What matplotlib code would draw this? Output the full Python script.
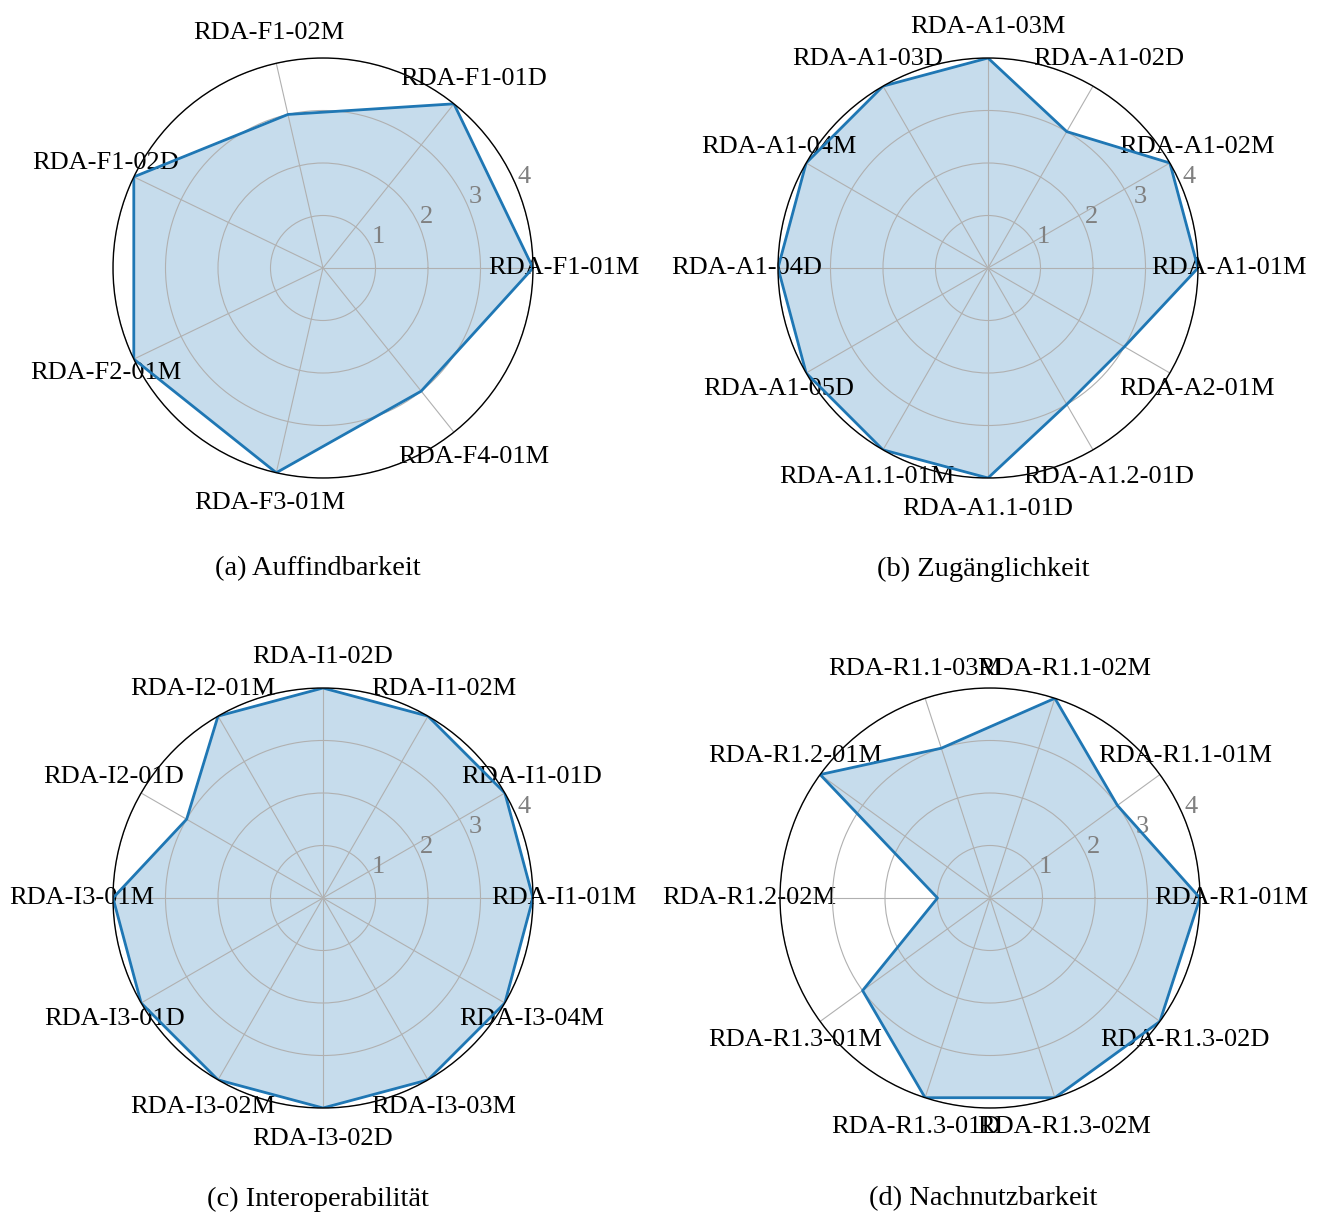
"""
FAIR maturity radar charts (RDA indicators)
"""

import matplotlib.pyplot as plt
import numpy as np

plt.rcParams["font.family"] = ["Liberation Serif", "DejaVu Serif"]
plt.rcParams["font.size"] = 19

W, H = 1325, 1216

# (a) Auffindbarkeit
labels_a = ["RDA-F1-01M", "RDA-F1-01D", "RDA-F1-02M", "RDA-F1-02D",
            "RDA-F2-01M", "RDA-F3-01M", "RDA-F4-01M"]
values_a = [4, 4, 3, 4, 4, 4, 3]

# (b) Zugänglichkeit
labels_b = ["RDA-A1-01M", "RDA-A1-02M", "RDA-A1-02D", "RDA-A1-03M",
            "RDA-A1-03D", "RDA-A1-04M", "RDA-A1-04D", "RDA-A1-05D",
            "RDA-A1.1-01M", "RDA-A1.1-01D", "RDA-A1.2-01D", "RDA-A2-01M"]
values_b = [4, 4, 3, 4, 4, 4, 4, 4, 4, 4, 3, 3]

# (c) Interoperabilität
labels_c = ["RDA-I1-01M", "RDA-I1-01D", "RDA-I1-02M", "RDA-I1-02D",
            "RDA-I2-01M", "RDA-I2-01D", "RDA-I3-01M", "RDA-I3-01D",
            "RDA-I3-02M", "RDA-I3-02D", "RDA-I3-03M", "RDA-I3-04M"]
values_c = [4, 4, 4, 4, 4, 3, 4, 4, 4, 4, 4, 4]

# (d) Nachnutzbarkeit
labels_d = ["RDA-R1-01M", "RDA-R1.1-01M", "RDA-R1.1-02M", "RDA-R1.1-03M",
            "RDA-R1.2-01M", "RDA-R1.2-02M", "RDA-R1.3-01M", "RDA-R1.3-01D",
            "RDA-R1.3-02M", "RDA-R1.3-02D"]
values_d = [4, 3, 4, 3, 4, 1, 3, 4, 4, 4]

captions = ["(a) Auffindbarkeit", "(b) Zugänglichkeit",
            "(c) Interoperabilität", "(d) Nachnutzbarkeit"]

# chart centres in pixels (x, y from top), radius in pixels
centers = [(323, 268), (988, 268), (323, 898), (990, 898)]
caption_pos = [(318, 569), (983, 569), (318, 1199), (983, 1199)]
R = 210


def radar(fig, center, labels, values):
    cx, cy = center
    ax = fig.add_axes([(cx - R) / W, 1 - (cy + R) / H, 2 * R / W, 2 * R / H],
                      projection="polar")
    n = len(labels)
    angles = np.linspace(0, 2 * np.pi, n, endpoint=False)
    a = np.append(angles, angles[0])
    v = np.append(values, values[0])
    ax.plot(a, v, color="#1f77b4", linewidth=2)
    ax.fill(a, v, color="#1f77b4", alpha=0.25)
    ax.set_xticks(angles)
    ax.set_xticklabels(labels)
    ax.tick_params(axis="x", pad=12)
    ax.set_ylim(0, 4)
    ax.set_yticks([1, 2, 3, 4])
    ax.set_yticklabels(["1", "2", "3", "4"], color="#808080")
    ax.grid(True, color="#b0b0b0", linewidth=0.8)
    ax.spines["polar"].set_color("black")
    ax.spines["polar"].set_linewidth(1.0)
    return ax


fig = plt.figure(figsize=(W / 100, H / 100), dpi=100)

for c, lab, val in zip(centers, [labels_a, labels_b, labels_c, labels_d],
                       [values_a, values_b, values_c, values_d]):
    radar(fig, c, lab, val)

for (x, y), cap in zip(caption_pos, captions):
    fig.text(x / W, 1 - y / H, cap, ha="center", va="center", fontsize=20.5)

fig.savefig("out.png", dpi=100)
